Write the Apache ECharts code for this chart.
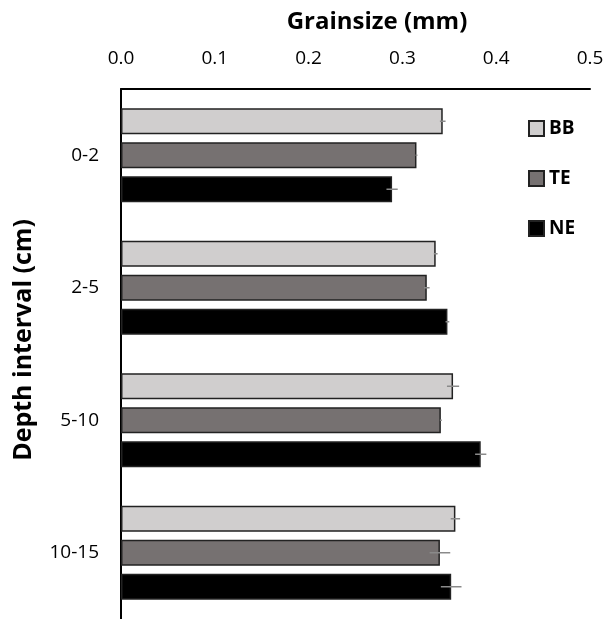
<!DOCTYPE html>
<html>
<head>
<meta charset="utf-8">
<script src="https://cdn.jsdelivr.net/npm/echarts@6/dist/echarts.min.js"></script>
<style>
html,body{margin:0;padding:0;background:#fff;}
#chart{width:607px;height:619px;}
</style>
</head>
<body>
<div id="chart"></div>
<script>
const categories = ['0-2', '2-5', '5-10', '10-15'];
const seriesNames = ['BB', 'TE', 'NE'];
const bbValues = [0.343, 0.3355, 0.354, 0.3565];
const teValues = [0.315, 0.326, 0.341, 0.340];
const neValues = [0.289, 0.348, 0.3835, 0.352];
const bbErrors = [0.003, 0.002, 0.0065, 0.005];
const teErrors = [0.001, 0.003, 0.001, 0.011];
const neErrors = [0.006, 0.002, 0.006, 0.011];
const xTicks = [0.0, 0.1, 0.2, 0.3, 0.4, 0.5];

const FONT = 'Open Sans';
const colors = ['#d0cece', '#767171', '#000000'];
const values = [bbValues, teValues, neValues];
const errors = [bbErrors, teErrors, neErrors];
const BAR_W = 26;
const GAP = 8;

const chart = echarts.init(document.getElementById('chart'));

const barSeries = seriesNames.map((name, i) => ({
  name: name,
  type: 'bar',
  data: values[i],
  barWidth: BAR_W,
  barGap: (GAP / BAR_W * 100) + '%',
  itemStyle: { color: colors[i], borderColor: '#222222', borderWidth: 1.5 },
  emphasis: { disabled: true },
  z: 2
}));

const errSeries = seriesNames.map((name, i) => ({
  type: 'custom',
  name: name + '_err',
  data: values[i].map((v, k) => [k, v, errors[i][k]]),
  encode: { y: 0, x: 1 },
  z: 5,
  silent: true,
  renderItem: function (params, api) {
    const cat = api.value(0);
    const v = api.value(1);
    const e = api.value(2);
    const off = (i - 1) * (BAR_W + GAP);
    const p1 = api.coord([v - e, cat]);
    const p2 = api.coord([v + e, cat]);
    const y = p1[1] + off;
    return {
      type: 'line',
      shape: { x1: p1[0], y1: y, x2: p2[0], y2: y },
      style: { stroke: '#8a8a8a', lineWidth: 1.5 }
    };
  }
}));

chart.setOption({
  animation: false,
  backgroundColor: '#ffffff',
  textStyle: { fontFamily: FONT },
  graphic: [{
    type: 'text',
    x: 377,
    y: 22,
    style: {
      text: 'Grainsize (mm)',
      fontFamily: FONT, fontSize: 24, fontWeight: 'bold', fill: '#000',
      textAlign: 'center', textVerticalAlign: 'middle'
    }
  }, {
    type: 'text',
    x: 24,
    y: 340,
    rotation: Math.PI / 2,
    style: {
      text: 'Depth interval (cm)',
      fontFamily: FONT, fontSize: 25, fontWeight: 'bold', fill: '#000',
      textAlign: 'center', textVerticalAlign: 'middle'
    }
  }],
  legend: {
    data: seriesNames,
    orient: 'vertical',
    left: 523,
    top: 114,
    itemWidth: 15,
    itemHeight: 15,
    itemGap: 31,
    icon: 'rect',
    textStyle: { fontFamily: FONT, fontSize: 19, fontWeight: 'bold', color: '#000' },
    selectedMode: false
  },
  grid: { left: 121, right: 17, top: 89, height: 532 },
  xAxis: {
    type: 'value',
    position: 'top',
    min: xTicks[0],
    max: xTicks[xTicks.length - 1],
    interval: 0.1,
    axisLine: { show: true, lineStyle: { color: '#000', width: 2 } },
    axisTick: { show: false },
    splitLine: { show: false },
    axisLabel: {
      fontFamily: FONT, fontSize: 19, color: '#000', margin: 21,
      formatter: v => v.toFixed(1)
    }
  },
  yAxis: {
    type: 'category',
    data: categories,
    inverse: true,
    axisLine: { show: true, lineStyle: { color: '#000', width: 2 } },
    axisTick: { show: false },
    axisLabel: { fontFamily: FONT, fontSize: 19, color: '#000', margin: 22 }
  },
  series: barSeries.concat(errSeries)
});
</script>
</body>
</html>
